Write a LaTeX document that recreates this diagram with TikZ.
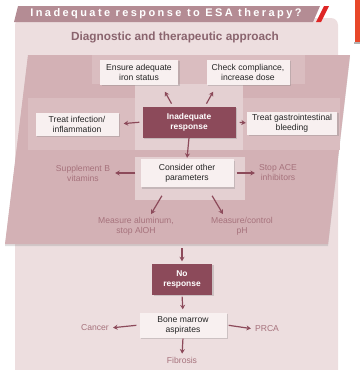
\documentclass[tikz,border=0pt]{standalone}
\usepackage{fontspec}
\setmainfont{Liberation Sans}
\newfontfamily\bannerfont[LetterSpace=22]{Liberation Sans}
\usetikzlibrary{arrows.meta, shadows}

\definecolor{mauve}{RGB}{140,74,90}
\definecolor{bannermauve}{RGB}{180,140,148}
\definecolor{panelpink}{RGB}{237,222,223}
\definecolor{bandpink}{RGB}{211,177,181}
\definecolor{midpink}{RGB}{218,189,192}
\definecolor{palepink}{RGB}{228,208,210}
\definecolor{boxpink}{RGB}{248,240,240}
\definecolor{labelmauve}{RGB}{166,114,124}
\definecolor{headmauve}{RGB}{138,100,110}
\definecolor{slashred}{RGB}{222,38,38}
\definecolor{tabred}{RGB}{232,72,42}

\tikzset{
  textbox/.style={fill=boxpink, text=black!85, align=center, inner sep=2pt,
    drop shadow={shadow xshift=1.5pt, shadow yshift=-1.5pt, opacity=0.3}},
  darkbox/.style={fill=mauve, text=white, align=center, inner sep=2pt,
    font=\fontsize{8.4}{10}\selectfont\bfseries,
    drop shadow={shadow xshift=1.5pt, shadow yshift=-1.5pt, opacity=0.3}},
  sidelabel/.style={text=labelmauve, align=center, inner sep=1pt},
  flowarrow/.style={->, draw=mauve, line width=1.2pt}
}

\begin{document}
\begin{tikzpicture}[x=1pt, y=-1pt, >={Stealth[length=4.5pt, width=5pt]},
  font=\fontsize{8.6}{10}\selectfont]
\useasboundingbox (0,0) rectangle (360,370);

% panels
\fill[panelpink, rounded corners=7pt] (15,18) rectangle (338,378);
\fill[bannermauve] (18,6) -- (320,6) -- (313,22) -- (14,22) -- cycle;
\fill[slashred] (324,6) -- (329,6) -- (321,22) -- (316,22) -- cycle;
\fill[tabred] (355,0) rectangle (360,42);
\fill[black!30] (354,42) rectangle (360,44);
\node[text=white, font=\bannerfont\fontsize{11}{13}\selectfont\bfseries] (banner) at (166,14) {Inadequate response to ESA therapy?};
\node[text=headmauve, font=\fontsize{11.8}{13}\selectfont\bfseries] (heading) at (175,37) {Diagnostic and therapeutic approach};

\fill[bandpink, drop shadow={shadow xshift=0pt, shadow yshift=-2pt, opacity=0.25}]
  (28,55) -- (350,55) -- (328,244) -- (5,244) -- cycle;
\fill[midpink] (92,55) rectangle (305,84);
\fill[midpink] (28,98) rectangle (340,150);
\fill[palepink] (135,84) rectangle (243,150);
\fill[palepink] (135,157) rectangle (245,200);

% upper part
\node[textbox, minimum width=78pt, minimum height=25pt] (iron) at (139,72) {Ensure adequate\\iron status};
\node[textbox, minimum width=83pt, minimum height=25pt] (comply) at (248,72) {Check compliance,\\increase dose};
\node[darkbox, minimum width=93pt, minimum height=31pt] (inadequate) at (189,122) {Inadequate\\response};
\node[textbox, minimum width=83pt, minimum height=23pt] (infection) at (77,124) {Treat infection/\\inflammation};
\node[textbox, minimum width=90pt, minimum height=23pt] (gastro) at (292,123) {Treat gastrointestinal\\bleeding};
\node[textbox, minimum width=93pt, minimum height=28pt] (consider) at (187,173) {Consider other\\parameters};
\node[sidelabel] (vitb) at (83,173) {Supplement B\\vitamins};
\node[sidelabel] (ace) at (278,173) {Stop ACE\\inhibitors};
\node[sidelabel] (alum) at (136,226) {Measure aluminum,\\stop AlOH};
\node[sidelabel] (ph) at (242,226) {Measure/control\\pH};

\draw[flowarrow, shorten <=3pt, shorten >=8pt] ([xshift=-16pt]inadequate.north) -- ([xshift=22pt]iron.south);
\draw[flowarrow, shorten <=3pt, shorten >=8pt] ([xshift=16pt]inadequate.north) -- ([xshift=-31pt]comply.south);
\draw[flowarrow, shorten <=3pt, shorten >=5pt] (inadequate.west) -- (infection.east);
\draw[flowarrow, shorten <=4pt, shorten >=1pt] (inadequate.east) -- (gastro.west);
\draw[flowarrow, shorten >=1pt] (inadequate.south) -- (consider.north);
\draw[flowarrow, shorten <=5pt, shorten >=4pt] (consider.west) -- (vitb.east);
\draw[flowarrow, shorten <=3pt, shorten >=3pt] (consider.east) -- (ace.west);
\draw[flowarrow, shorten <=10pt, shorten >=2pt] ([xshift=-20pt]consider.south) -- (alum.north -| 150,0);
\draw[flowarrow, shorten <=10pt, shorten >=2pt] ([xshift=20pt]consider.south) -- (ph.north -| 224,0);

% lower part
\coordinate (bandexit) at (182,248);
\node[darkbox, minimum width=60pt, minimum height=31pt] (noresp) at (182,279) {No\\response};
\node[textbox, minimum width=87pt, minimum height=25pt] (marrow) at (183,325) {Bone marrow\\aspirates};
\node[sidelabel] (cancer) at (95,328) {Cancer};
\node[sidelabel] (prca) at (267,329) {PRCA};
\node[sidelabel] (fibrosis) at (182,360) {Fibrosis};

\draw[flowarrow, shorten >=2pt] (bandexit) -- (noresp.north);
\draw[flowarrow, shorten <=2pt, shorten >=3pt] (noresp.south) -- (marrow.north);
\draw[flowarrow, shorten <=3pt, shorten >=3pt] (marrow.west) -- (cancer.east);
\draw[flowarrow, shorten <=2pt, shorten >=3pt] (marrow.east) -- (prca.west);
\draw[flowarrow, shorten <=1pt, shorten >=2pt] (marrow.south) -- (fibrosis.north);
\end{tikzpicture}
\end{document}
